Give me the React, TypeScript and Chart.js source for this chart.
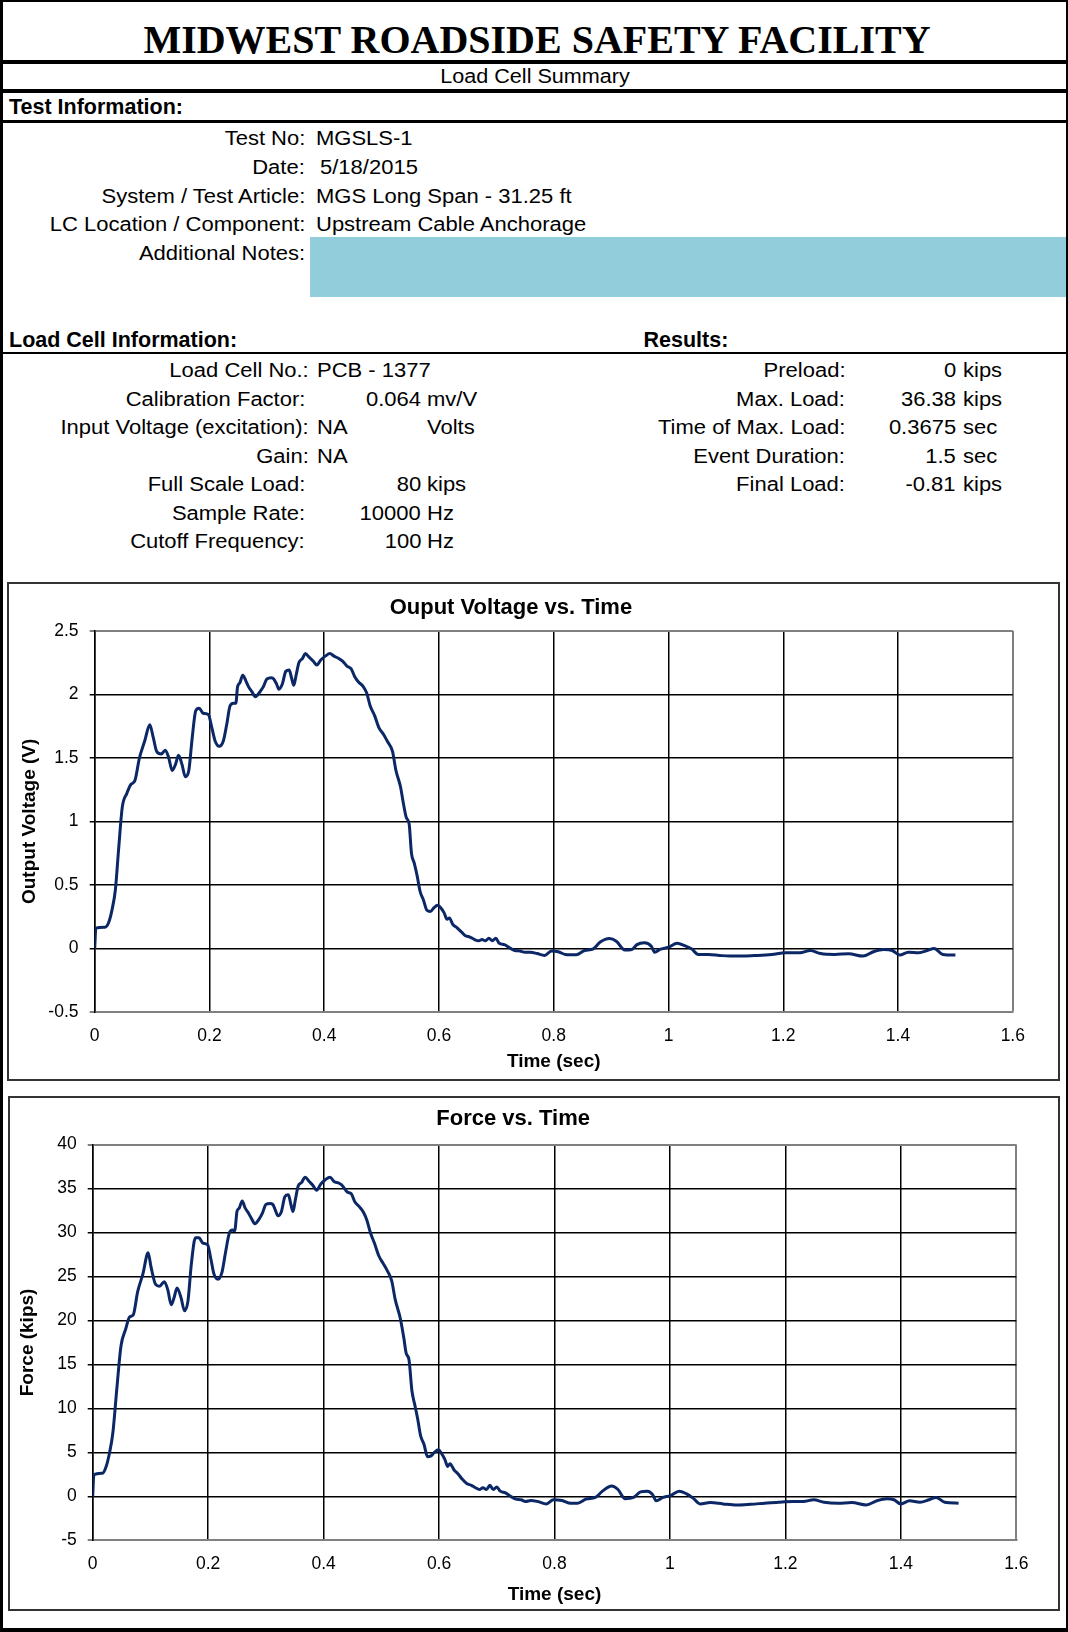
import React, { useEffect, useRef } from 'react';
import { Chart, registerables } from 'chart.js';

Chart.register(...registerables);

// ---------------- data ----------------
const TIME_MIN = 0;
const TIME_MAX = 1.6;
const TIME_STEP = 0.2;

const VOLT_MIN = -0.5;
const VOLT_MAX = 2.5;
const VOLT_STEP = 0.5;

const FORCE_MIN = -5;
const FORCE_MAX = 40;
const FORCE_STEP = 5;

// [time (sec), output voltage (V)] read from the "Ouput Voltage vs. Time" chart
const VOLTAGE_TRACE: Array<[number, number]> = [
  [0, 0], [0.002, 0.16], [0.018, 0.167], [0.024, 0.2], [0.03, 0.3], [0.036, 0.46], [0.042, 0.8],
  [0.048, 1.11], [0.056, 1.22], [0.063, 1.29], [0.07, 1.32], [0.078, 1.5], [0.087, 1.63], [0.096, 1.76],
  [0.102, 1.66], [0.108, 1.55], [0.116, 1.53], [0.123, 1.56], [0.129, 1.5], [0.135, 1.4], [0.141, 1.45],
  [0.146, 1.52], [0.152, 1.45], [0.158, 1.35], [0.164, 1.4], [0.17, 1.66], [0.176, 1.87], [0.182, 1.89],
  [0.189, 1.85], [0.198, 1.84], [0.204, 1.74], [0.21, 1.63], [0.217, 1.59], [0.224, 1.63], [0.23, 1.76],
  [0.236, 1.91], [0.242, 1.93], [0.246, 1.93], [0.249, 2.06], [0.253, 2.09], [0.258, 2.15], [0.264, 2.1],
  [0.268, 2.06], [0.274, 2.02], [0.28, 1.98], [0.288, 2.02], [0.294, 2.06], [0.3, 2.12], [0.308, 2.13],
  [0.312, 2.12], [0.317, 2.08], [0.321, 2.04], [0.327, 2.08], [0.333, 2.18], [0.339, 2.19], [0.343, 2.13],
  [0.347, 2.07], [0.351, 2.15], [0.356, 2.25], [0.362, 2.28], [0.367, 2.32], [0.374, 2.29], [0.381, 2.26],
  [0.387, 2.23], [0.394, 2.27], [0.402, 2.3], [0.41, 2.32], [0.417, 2.3], [0.426, 2.28], [0.432, 2.26],
  [0.44, 2.22], [0.447, 2.2], [0.453, 2.14], [0.459, 2.1], [0.468, 2.06], [0.474, 2.01], [0.48, 1.91],
  [0.488, 1.83], [0.495, 1.74], [0.504, 1.68], [0.51, 1.63], [0.519, 1.55], [0.525, 1.4], [0.533, 1.27],
  [0.538, 1.14], [0.543, 1.03], [0.548, 0.98], [0.552, 0.75], [0.557, 0.67], [0.562, 0.57], [0.567, 0.45],
  [0.573, 0.38], [0.579, 0.3], [0.585, 0.29], [0.591, 0.32], [0.598, 0.34], [0.603, 0.32], [0.609, 0.28],
  [0.614, 0.23], [0.618, 0.24], [0.624, 0.19], [0.632, 0.16], [0.639, 0.13], [0.646, 0.1], [0.654, 0.09],
  [0.662, 0.07], [0.669, 0.06], [0.675, 0.07], [0.681, 0.06], [0.687, 0.08], [0.693, 0.06], [0.699, 0.08],
  [0.705, 0.04], [0.714, 0.03], [0.723, 0.005], [0.732, -0.016], [0.741, -0.02], [0.75, -0.03], [0.759, -0.03],
  [0.771, -0.04], [0.784, -0.055], [0.796, -0.02], [0.808, -0.026], [0.82, -0.047], [0.839, -0.05],
  [0.854, -0.016], [0.869, -0.003], [0.881, 0.05], [0.897, 0.078], [0.909, 0.057], [0.924, -0.013],
  [0.936, -0.008], [0.945, 0.03], [0.958, 0.044], [0.97, 0.018], [0.976, -0.03], [0.985, -0.008], [1.0, 0.01],
  [1.015, 0.04], [1.028, 0.023], [1.04, -0.003], [1.052, -0.047], [1.07, -0.047], [1.089, -0.055],
  [1.107, -0.06], [1.131, -0.06], [1.155, -0.055], [1.18, -0.047], [1.204, -0.034], [1.229, -0.034],
  [1.247, -0.016], [1.265, -0.04], [1.29, -0.047], [1.314, -0.042], [1.339, -0.06], [1.357, -0.026],
  [1.375, -0.008], [1.39, -0.016], [1.403, -0.052], [1.418, -0.03], [1.436, -0.034], [1.451, -0.016],
  [1.463, 0.0], [1.478, -0.047], [1.5, -0.052],
];

// [time (sec), force (kips)] read from the "Force vs. Time" chart
const FORCE_TRACE: Array<[number, number]> = [
  [0, 0], [0.002, 2.47], [0.017, 2.63], [0.023, 3.33], [0.029, 4.9], [0.035, 7.26], [0.042, 12.4],
  [0.049, 17.1], [0.057, 19.0], [0.064, 20.4], [0.07, 20.6], [0.078, 23.3], [0.087, 25.3], [0.096, 27.7],
  [0.101, 26.1], [0.109, 24.1], [0.116, 23.9], [0.124, 24.4], [0.13, 23.5], [0.136, 21.8], [0.141, 22.6],
  [0.146, 23.7], [0.153, 22.6], [0.159, 21.1], [0.165, 22.2], [0.171, 26.5], [0.178, 29.4], [0.184, 29.4],
  [0.191, 28.8], [0.199, 28.6], [0.205, 26.9], [0.21, 25.3], [0.217, 24.7], [0.224, 25.5], [0.23, 27.7],
  [0.237, 30.0], [0.242, 30.3], [0.246, 30.2], [0.25, 32.4], [0.254, 32.8], [0.259, 33.6], [0.264, 32.8],
  [0.269, 32.3], [0.275, 31.6], [0.281, 31.0], [0.288, 31.5], [0.294, 32.2], [0.3, 33.2], [0.307, 33.3],
  [0.312, 33.2], [0.316, 32.6], [0.321, 31.9], [0.327, 32.4], [0.333, 34.1], [0.339, 34.3], [0.343, 33.3],
  [0.347, 32.4], [0.351, 33.7], [0.356, 35.3], [0.362, 35.7], [0.368, 36.3], [0.375, 35.8], [0.381, 35.4],
  [0.388, 34.8], [0.395, 35.5], [0.403, 36.0], [0.411, 36.3], [0.418, 35.8], [0.427, 35.6], [0.433, 35.3],
  [0.441, 34.6], [0.448, 34.4], [0.454, 33.5], [0.461, 33.0], [0.469, 32.3], [0.475, 31.4], [0.481, 30.0],
  [0.488, 28.8], [0.496, 27.3], [0.503, 26.5], [0.51, 25.7], [0.518, 24.5], [0.524, 22.4], [0.533, 20.2],
  [0.539, 18.0], [0.543, 16.3], [0.548, 15.5], [0.553, 12.0], [0.558, 10.4], [0.563, 8.8], [0.568, 6.9],
  [0.574, 5.9], [0.58, 4.5], [0.586, 4.6], [0.592, 5.0], [0.599, 5.3], [0.604, 4.9], [0.61, 4.2],
  [0.615, 3.4], [0.619, 3.7], [0.626, 3.0], [0.633, 2.55], [0.64, 1.96], [0.648, 1.45], [0.656, 1.25],
  [0.663, 0.98], [0.67, 0.78], [0.676, 0.98], [0.682, 0.78], [0.688, 1.25], [0.694, 0.78], [0.7, 1.06],
  [0.706, 0.59], [0.715, 0.39], [0.724, 0.0], [0.733, -0.31], [0.742, -0.39], [0.75, -0.59], [0.759, -0.47],
  [0.771, -0.59], [0.786, -0.86], [0.798, -0.39], [0.813, -0.47], [0.828, -0.78], [0.84, -0.78],
  [0.855, -0.31], [0.871, -0.12], [0.883, 0.59], [0.899, 1.18], [0.91, 0.78], [0.922, -0.27], [0.937, -0.12],
  [0.949, 0.51], [0.961, 0.59], [0.97, 0.2], [0.976, -0.51], [0.988, -0.12], [1.001, 0.08], [1.016, 0.59],
  [1.028, 0.31], [1.04, -0.2], [1.052, -0.86], [1.07, -0.71], [1.092, -0.86], [1.116, -0.98], [1.14, -0.9],
  [1.164, -0.78], [1.188, -0.67], [1.213, -0.59], [1.231, -0.59], [1.249, -0.39], [1.267, -0.67],
  [1.291, -0.78], [1.315, -0.71], [1.34, -0.98], [1.358, -0.51], [1.376, -0.27], [1.388, -0.39],
  [1.4, -0.86], [1.415, -0.51], [1.433, -0.67], [1.449, -0.39], [1.461, -0.12], [1.476, -0.67], [1.5, -0.78],
];

const TEST_INFO_LABELS = ['Test No:', 'Date:', 'System / Test Article:', 'LC Location / Component:', 'Additional Notes:'];
const TEST_INFO_VALUES = ['MGSLS-1', '5/18/2015', 'MGS Long Span - 31.25 ft', 'Upstream Cable Anchorage', ''];

const LC_LABELS = ['Load Cell No.:', 'Calibration Factor:', 'Input Voltage (excitation):', 'Gain:', 'Full Scale Load:', 'Sample Rate:', 'Cutoff Frequency:'];
const LC_TEXT_VALUES = ['PCB - 1377', '', 'NA', 'NA', '', '', ''];
const LC_NUMBERS = ['', '0.064', '', '', '80', '10000', '100'];
const LC_UNITS = ['', 'mv/V', 'Volts', '', 'kips', 'Hz', 'Hz'];

const RESULT_LABELS = ['Preload:', 'Max. Load:', 'Time of Max. Load:', 'Event Duration:', 'Final Load:'];
const RESULT_NUMBERS = ['0', '36.38', '0.3675', '1.5', '-0.81'];
const RESULT_UNITS = ['kips', 'kips', 'sec', 'sec', 'kips'];

// ---------------- styles ----------------
const PAGE_W = 1068;
const PAGE_H = 1632;
const SANS = '"Liberation Sans", Arial, Helvetica, sans-serif';
const SERIF = '"Liberation Serif", "Times New Roman", serif';
const LINE_COLOR = '#0b2766';
const GRAY = '#808080';
const NOTE_BLUE = '#92cddc';

type TxtProps = {
  x: number;
  base: number;
  text: string;
  align?: 'left' | 'right' | 'center';
  size?: number;
  bold?: boolean;
  sx?: number;
  serif?: boolean;
};

function Txt({ x, base, text, align = 'left', size = 20, bold = false, sx = 1.1, serif = false }: TxtProps) {
  const ascentRatio = serif ? 0.8375 : 0.8465;
  const style: React.CSSProperties = {
    position: 'absolute',
    top: base - size * ascentRatio,
    fontFamily: serif ? SERIF : SANS,
    fontSize: size,
    lineHeight: `${size}px`,
    fontWeight: bold ? 700 : 400,
    whiteSpace: 'pre',
    color: '#000',
  };
  if (align === 'left') {
    style.left = x;
    style.transform = `scaleX(${sx})`;
    style.transformOrigin = 'left center';
  } else if (align === 'right') {
    style.right = PAGE_W - x;
    style.transform = `scaleX(${sx})`;
    style.transformOrigin = 'right center';
  } else {
    style.left = x;
    style.transform = `translateX(-50%) scaleX(${sx})`;
    style.transformOrigin = 'center center';
  }
  return <span style={style}>{text}</span>;
}

function HLine({ y, h }: { y: number; h: number }) {
  return <div style={{ position: 'absolute', left: 0, width: PAGE_W, top: y, height: h, background: '#000' }} />;
}

type ChartSpec = {
  trace: Array<[number, number]>;
  title: string;
  yTitle: string;
  yMin: number;
  yMax: number;
  yStep: number;
  w: number;
  h: number;
  plotLeft: number;
  plotRight: number;
  plotTop: number;
  plotBottom: number;
  titleCenter: number;
  tickCenter: number;
  xTitleCenter: number;
  yLabelRight: number;
  yTitleCenter: number;
};

function near(a: number, b: number) {
  return Math.abs(a - b) < 1e-7;
}

function fmtTick(v: number | string) {
  const n = typeof v === 'number' ? v : parseFloat(v);
  return String(Math.round(n * 1000) / 1000);
}

function LineChart(p: ChartSpec) {
  const ref = useRef<HTMLCanvasElement>(null);
  useEffect(() => {
    if (!ref.current) return;
    const tickSize = 17.5;
    const tickLH = tickSize * 1.2;
    const titleSize = 22;
    const titleLH = titleSize * 1.2;
    const axSize = 19;
    const axLH = axSize * 1.2;
    const tickLen = 5;
    const titlePadTop = p.titleCenter - titleLH / 2;
    const titlePadBottom = p.plotTop - titlePadTop - titleLH;

    const chart = new Chart(ref.current, {
      type: 'line',
      data: {
        datasets: [
          {
            data: p.trace.map(([x, y]) => ({ x, y })),
            borderColor: LINE_COLOR,
            borderWidth: 3,
            pointRadius: 0,
            fill: false,
            cubicInterpolationMode: 'monotone',
          },
        ],
      },
      options: {
        animation: false,
        responsive: false,
        maintainAspectRatio: false,
        events: [],
        layout: { padding: { left: 0, top: 0, bottom: 0, right: p.w - p.plotRight } },
        plugins: {
          legend: { display: false },
          tooltip: { enabled: false },
          title: {
            display: true,
            text: p.title,
            color: '#000',
            font: { family: SANS, size: titleSize, weight: 'bold', lineHeight: 1.2 },
            padding: { top: titlePadTop, bottom: titlePadBottom },
          },
        },
        scales: {
          x: {
            type: 'linear',
            min: TIME_MIN,
            max: TIME_MAX,
            ticks: {
              stepSize: TIME_STEP,
              color: '#000',
              font: { family: SANS, size: tickSize, lineHeight: 1.2 },
              padding: p.tickCenter - p.plotBottom - tickLH / 2,
              maxRotation: 0,
              autoSkip: false,
              callback: (v: any) => fmtTick(v),
            },
            grid: {
              color: (c: any) => (near(c.tick?.value, TIME_MAX) ? GRAY : '#000'),
              lineWidth: (c: any) => (near(c.tick?.value, TIME_MAX) ? 2 : 1.5),
              drawTicks: false,
            },
            border: { color: GRAY, width: 2 },
            title: {
              display: true,
              text: 'Time (sec)',
              color: '#000',
              font: { family: SANS, size: axSize, weight: 'bold', lineHeight: 1.2 },
              padding: { top: 0, bottom: p.h - p.xTitleCenter - axLH / 2 },
            },
            afterFit: (s: any) => {
              s.height = p.h - p.plotBottom;
            },
          },
          y: {
            type: 'linear',
            min: p.yMin,
            max: p.yMax,
            ticks: {
              stepSize: p.yStep,
              color: '#000',
              font: { family: SANS, size: tickSize, lineHeight: 1.2 },
              padding: p.plotLeft - p.yLabelRight - tickLen,
              callback: (v: any) => fmtTick(v),
            },
            grid: {
              color: (c: any) => (near(c.tick?.value, p.yMax) || near(c.tick?.value, p.yMin) ? GRAY : '#000'),
              lineWidth: (c: any) => (near(c.tick?.value, p.yMax) || near(c.tick?.value, p.yMin) ? 2 : 1.5),
              tickLength: tickLen,
            },
            border: { color: '#000', width: 1.5 },
            title: {
              display: true,
              text: p.yTitle,
              color: '#000',
              font: { family: SANS, size: axSize, weight: 'bold', lineHeight: 1.2 },
              padding: { top: p.yTitleCenter - axLH / 2, bottom: 0 },
            },
            afterFit: (s: any) => {
              s.width = p.plotLeft;
            },
          },
        },
      } as any,
    });
    return () => chart.destroy();
  }, []);
  return <canvas ref={ref} width={p.w} height={p.h} style={{ display: 'block', width: p.w, height: p.h }} />;
}

function ChartFrame({ left, top, width, height, children }: { left: number; top: number; width: number; height: number; children: React.ReactNode }) {
  return (
    <div
      style={{
        position: 'absolute',
        left,
        top,
        width,
        height,
        border: '2px solid #333',
        boxSizing: 'border-box',
        background: '#fff',
      }}
    >
      {children}
    </div>
  );
}

export default function App() {
  useEffect(() => {
    document.body.style.margin = '0';
  }, []);

  const testBases = [144.5, 173.5, 202.5, 231, 259.5];
  const lcBases = [377, 405.5, 434, 462.5, 491, 519.5, 548];
  const lcLabelRight = [309, 305, 309, 309, 305, 305, 305];

  return (
    <div style={{ position: 'relative', width: PAGE_W, height: PAGE_H, background: '#fff', overflow: 'hidden' }}>
      {/* page border */}
      <div
        style={{
          position: 'absolute',
          left: 0,
          top: 0,
          width: PAGE_W,
          height: PAGE_H,
          borderTop: '2px solid #000',
          borderLeft: '3px solid #000',
          borderRight: '2px solid #000',
          borderBottom: '4px solid #000',
          boxSizing: 'border-box',
        }}
      />

      <Txt x={537} base={53.3} text="MIDWEST ROADSIDE SAFETY FACILITY" align="center" size={40} bold serif sx={1} />
      <HLine y={60} h={4} />
      <Txt x={535} base={83.3} text="Load Cell Summary" align="center" size={20} sx={1.08} />
      <HLine y={89} h={4} />
      <Txt x={9} base={115} text="Test Information:" size={21.5} bold sx={1} />
      <HLine y={120} h={3} />

      {TEST_INFO_LABELS.map((l, i) => (
        <Txt key={'tl' + i} x={305} base={testBases[i]} text={l} align="right" />
      ))}
      {TEST_INFO_VALUES.map((v, i) =>
        v ? <Txt key={'tv' + i} x={i === 1 ? 319.5 : 316} base={testBases[i]} text={v} /> : null
      )}
      <div style={{ position: 'absolute', left: 310, top: 237, width: PAGE_W - 2 - 310, height: 60, background: NOTE_BLUE }} />

      <Txt x={9} base={348} text="Load Cell Information:" size={21.5} bold sx={1} />
      <Txt x={643.5} base={348} text="Results:" size={21.5} bold sx={1} />
      <HLine y={352} h={2} />

      {LC_LABELS.map((l, i) => (
        <Txt key={'ll' + i} x={lcLabelRight[i]} base={lcBases[i]} text={l} align="right" />
      ))}
      {LC_TEXT_VALUES.map((v, i) => (v ? <Txt key={'lv' + i} x={316.5} base={lcBases[i]} text={v} /> : null))}
      {LC_NUMBERS.map((v, i) => (v ? <Txt key={'ln' + i} x={421} base={lcBases[i]} text={v} align="right" /> : null))}
      {LC_UNITS.map((v, i) => (v ? <Txt key={'lu' + i} x={427} base={lcBases[i]} text={v} /> : null))}

      {RESULT_LABELS.map((l, i) => (
        <Txt key={'rl' + i} x={845} base={lcBases[i]} text={l} align="right" />
      ))}
      {RESULT_NUMBERS.map((v, i) => (
        <Txt key={'rn' + i} x={956} base={lcBases[i]} text={v} align="right" />
      ))}
      {RESULT_UNITS.map((v, i) => (
        <Txt key={'ru' + i} x={963} base={lcBases[i]} text={v} />
      ))}

      <ChartFrame left={7} top={582} width={1053} height={499}>
        <LineChart
          trace={VOLTAGE_TRACE}
          title="Ouput Voltage vs. Time"
          yTitle="Output Voltage (V)"
          yMin={VOLT_MIN}
          yMax={VOLT_MAX}
          yStep={VOLT_STEP}
          w={1049}
          h={495}
          plotLeft={85.7}
          plotRight={1003.8}
          plotTop={46.7}
          plotBottom={428}
          titleCenter={24}
          tickCenter={452}
          xTitleCenter={478}
          yLabelRight={69.5}
          yTitleCenter={20.3}
        />
      </ChartFrame>

      <ChartFrame left={8} top={1096} width={1052} height={515}>
        <LineChart
          trace={FORCE_TRACE}
          title="Force vs. Time"
          yTitle="Force (kips)"
          yMin={FORCE_MIN}
          yMax={FORCE_MAX}
          yStep={FORCE_STEP}
          w={1048}
          h={511}
          plotLeft={82.7}
          plotRight={1006.3}
          plotTop={46.6}
          plotBottom={442.3}
          titleCenter={21.4}
          tickCenter={466}
          xTitleCenter={496.7}
          yLabelRight={66.7}
          yTitleCenter={17.5}
        />
      </ChartFrame>
    </div>
  );
}
